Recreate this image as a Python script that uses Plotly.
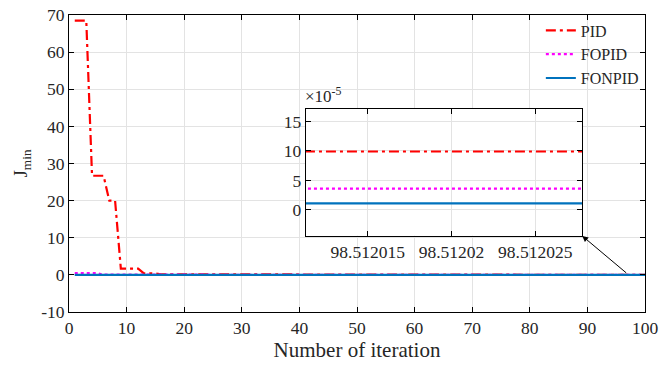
import plotly.graph_objects as go

iterations = list(range(1, 101))
pid = [68.5, 68.5, 68.5, 26.7, 26.7, 26.7, 20.0, 20.0, 1.7, 1.7,
       1.7, 1.7, 0.4, 0.4, 0.4, 0.15, 0.15, 0.1, 0.1, 0.05,
       0.0001, 0.0001, 0.0001, 0.0001, 0.0001, 0.0001, 0.0001, 0.0001, 0.0001, 0.0001,
       0.0001, 0.0001, 0.0001, 0.0001, 0.0001, 0.0001, 0.0001, 0.0001, 0.0001, 0.0001,
       0.0001, 0.0001, 0.0001, 0.0001, 0.0001, 0.0001, 0.0001, 0.0001, 0.0001, 0.0001,
       0.0001, 0.0001, 0.0001, 0.0001, 0.0001, 0.0001, 0.0001, 0.0001, 0.0001, 0.0001,
       0.0001, 0.0001, 0.0001, 0.0001, 0.0001, 0.0001, 0.0001, 0.0001, 0.0001, 0.0001,
       0.0001, 0.0001, 0.0001, 0.0001, 0.0001, 0.0001, 0.0001, 0.0001, 0.0001, 0.0001,
       0.0001, 0.0001, 0.0001, 0.0001, 0.0001, 0.0001, 0.0001, 0.0001, 0.0001, 0.0001,
       0.0001, 0.0001, 0.0001, 0.0001, 0.0001, 0.0001, 0.0001, 0.0001, 0.0001, 0.0001]
fopid = [0.45, 0.45, 0.45, 0.45, 0.45, 0.05, 0.05, 0.05, 0.00004, 0.00004,
         0.00004, 0.00004, 0.00004, 0.00004, 0.00004, 0.00004, 0.00004, 0.00004, 0.00004, 0.00004,
         0.00004, 0.00004, 0.00004, 0.00004, 0.00004, 0.00004, 0.00004, 0.00004, 0.00004, 0.00004,
         0.00004, 0.00004, 0.00004, 0.00004, 0.00004, 0.00004, 0.00004, 0.00004, 0.00004, 0.00004,
         0.00004, 0.00004, 0.00004, 0.00004, 0.00004, 0.00004, 0.00004, 0.00004, 0.00004, 0.00004,
         0.00004, 0.00004, 0.00004, 0.00004, 0.00004, 0.00004, 0.00004, 0.00004, 0.00004, 0.00004,
         0.00004, 0.00004, 0.00004, 0.00004, 0.00004, 0.00004, 0.00004, 0.00004, 0.00004, 0.00004,
         0.00004, 0.00004, 0.00004, 0.00004, 0.00004, 0.00004, 0.00004, 0.00004, 0.00004, 0.00004,
         0.00004, 0.00004, 0.00004, 0.00004, 0.00004, 0.00004, 0.00004, 0.00004, 0.00004, 0.00004,
         0.00004, 0.00004, 0.00004, 0.00004, 0.00004, 0.00004, 0.00004, 0.00004, 0.00004, 0.00004]
fonpid = [
    0.00001, 0.00001, 0.00001, 0.00001, 0.00001, 0.00001, 0.00001, 0.00001, 0.00001, 0.00001,
    0.00001, 0.00001, 0.00001, 0.00001, 0.00001, 0.00001, 0.00001, 0.00001, 0.00001, 0.00001,
    0.00001, 0.00001, 0.00001, 0.00001, 0.00001, 0.00001, 0.00001, 0.00001, 0.00001, 0.00001,
    0.00001, 0.00001, 0.00001, 0.00001, 0.00001, 0.00001, 0.00001, 0.00001, 0.00001, 0.00001,
    0.00001, 0.00001, 0.00001, 0.00001, 0.00001, 0.00001, 0.00001, 0.00001, 0.00001, 0.00001,
    0.00001, 0.00001, 0.00001, 0.00001, 0.00001, 0.00001, 0.00001, 0.00001, 0.00001, 0.00001,
    0.00001, 0.00001, 0.00001, 0.00001, 0.00001, 0.00001, 0.00001, 0.00001, 0.00001, 0.00001,
    0.00001, 0.00001, 0.00001, 0.00001, 0.00001, 0.00001, 0.00001, 0.00001, 0.00001, 0.00001,
    0.00001, 0.00001, 0.00001, 0.00001, 0.00001, 0.00001, 0.00001, 0.00001, 0.00001, 0.00001,
    0.00001, 0.00001, 0.00001, 0.00001, 0.00001, 0.00001, 0.00001, 0.00001, 0.00001, 0.00001]

x_ticks = [0, 10, 20, 30, 40, 50, 60, 70, 80, 90, 100]
y_ticks = [-10, 0, 10, 20, 30, 40, 50, 60, 70]
y_ticklabels = ["-10", "0", "10", "20", "30", "40", "50", "60", "70"]

# inset (zoomed) data, values in units of 1e-5
inset_x = [98.51201, 98.51203]
inset_pid = [9.9, 9.9]
inset_fopid = [3.6, 3.6]
inset_fonpid = [1.1, 1.1]
inset_xticks = [98.512015, 98.51202, 98.512025]
inset_xticklabels = ["98.512015", "98.51202", "98.512025"]
inset_yticks = [0, 5, 10, 15]

RED = "#FF0000"
MAG = "#FF00FF"
BLUE = "#0072BD"
FONT = "Liberation Serif, Times New Roman, serif"
TXT = "#262626"
DASHDOT = "10px,4px,3px,4px"

fig = go.Figure()
fig.add_trace(go.Scatter(x=iterations, y=pid, mode="lines", name="PID",
                         line=dict(color=RED, width=2.2, dash=DASHDOT)))
fig.add_trace(go.Scatter(x=iterations, y=fopid, mode="lines", name="FOPID",
                         line=dict(color=MAG, width=2.2, dash="dot")))
fig.add_trace(go.Scatter(x=iterations, y=fonpid, mode="lines", name="FONPID",
                         line=dict(color=BLUE, width=2.2)))

fig.add_trace(go.Scatter(x=inset_x, y=inset_pid, mode="lines", showlegend=False,
                         xaxis="x2", yaxis="y2",
                         line=dict(color=RED, width=2.2, dash=DASHDOT)))
fig.add_trace(go.Scatter(x=inset_x, y=inset_fopid, mode="lines", showlegend=False,
                         xaxis="x2", yaxis="y2",
                         line=dict(color=MAG, width=2.2, dash="dot")))
fig.add_trace(go.Scatter(x=inset_x, y=inset_fonpid, mode="lines", showlegend=False,
                         xaxis="x2", yaxis="y2",
                         line=dict(color=BLUE, width=2.2)))

axis_common = dict(showline=True, linecolor="black", linewidth=1, mirror="ticks",
                   ticks="inside", ticklen=5, tickcolor="black",
                   showgrid=True, gridcolor="#E3E3E3", gridwidth=1,
                   zeroline=False, automargin=False,
                   tickfont=dict(family=FONT, size=17.5, color=TXT))

fig.update_layout(
    width=661, height=365,
    margin=dict(l=69, r=16, t=15, b=53, autoexpand=False),
    paper_bgcolor="white", plot_bgcolor="white",
    font=dict(family=FONT, color=TXT),
    xaxis=dict(range=[0, 100], tickvals=x_ticks,
               title=dict(text="Number of iteration", font=dict(family=FONT, size=21, color=TXT),
                          standoff=3),
               **axis_common),
    yaxis=dict(range=[-10, 70], tickvals=y_ticks, ticktext=y_ticklabels,
               title=dict(text="J<sub>min</sub>", font=dict(family=FONT, size=19, color=TXT),
                          standoff=8),
               **axis_common),
    xaxis2=dict(domain=[0.411, 0.891], anchor="y2", range=[98.5120113, 98.5120278],
                tickvals=inset_xticks, ticktext=inset_xticklabels,
                **axis_common),
    yaxis2=dict(domain=[0.257, 0.6835], anchor="x2", range=[-4.36, 17.1],
                tickvals=inset_yticks,
                **axis_common),
    legend=dict(x=0.998, y=1.005, xanchor="right", yanchor="top",
                bgcolor="rgba(255,255,255,0)", font=dict(family=FONT, size=16, color=TXT),
                tracegroupgap=0, itemwidth=30),
    showlegend=True,
)

fig.add_annotation(text="×10<sup>-5</sup>", xref="paper", yref="paper",
                   x=0.406, y=0.688, xanchor="left", yanchor="bottom", showarrow=False,
                   font=dict(family=FONT, size=17, color=TXT))

fig.add_annotation(x=89.1, y=10.5, ax=97, ay=0.2, xref="x", yref="y",
                   axref="x", ayref="y", showarrow=True, arrowhead=2,
                   arrowsize=1.2, arrowwidth=1, arrowcolor="black", text="")

fig.write_html("out.html", config={"displayModeBar": False},
               post_script="document.body.style.margin='0px';")
